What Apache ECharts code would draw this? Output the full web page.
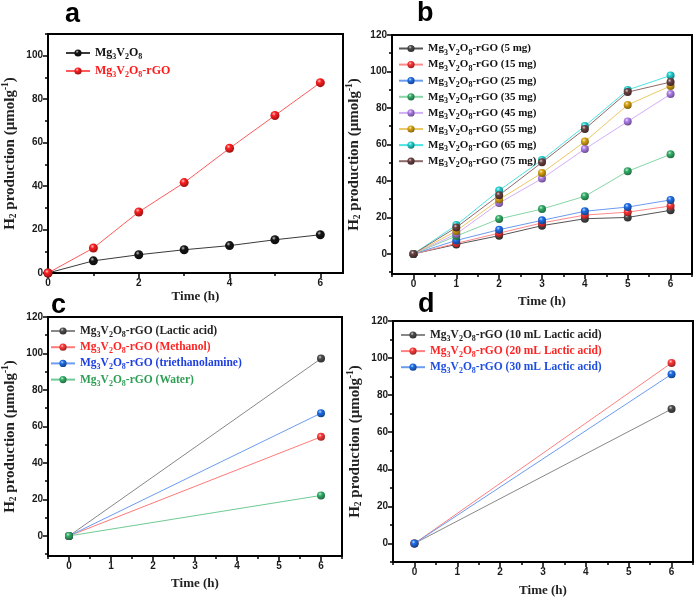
<!DOCTYPE html>
<html>
<head>
<meta charset="utf-8">
<script src="https://cdn.jsdelivr.net/npm/echarts@6/dist/echarts.min.js"></script>
<style>html,body{margin:0;padding:0;background:#fff}#c{width:697px;height:600px}</style>
</head>
<body>
<div id="c"></div>
<script>
// ---------- data ----------
const hoursA = [0, 1, 2, 3, 4, 5, 6];
const hoursB = [0, 1, 2, 3, 4, 5, 6];
const hoursCD = [0, 6];

// panel a
const namesA = ['Mg3V2O8', 'Mg3V2O8-rGO'];
const a_MgVO = [0, 5.6, 8.4, 10.7, 12.6, 15.3, 17.6];
const a_MgVO_rGO = [0, 11.5, 28.1, 41.6, 57.4, 72.5, 87.6];

// panel b
const namesB = ['Mg3V2O8-rGO (5 mg)', 'Mg3V2O8-rGO (15 mg)', 'Mg3V2O8-rGO (25 mg)', 'Mg3V2O8-rGO (35 mg)',
  'Mg3V2O8-rGO (45 mg)', 'Mg3V2O8-rGO (55 mg)', 'Mg3V2O8-rGO (65 mg)', 'Mg3V2O8-rGO (75 mg)'];
const b_5mg = [0, 5.2, 10.0, 15.5, 19.3, 20.0, 23.9];
const b_15mg = [0, 5.8, 11.4, 17.0, 21.3, 22.9, 26.3];
const b_25mg = [0, 7.4, 13.3, 18.4, 23.4, 25.7, 29.6];
const b_35mg = [0, 9.8, 19.2, 24.6, 31.6, 45.3, 54.6];
const b_45mg = [0, 11.0, 27.9, 41.3, 57.5, 72.6, 87.6];
const b_55mg = [0, 12.6, 29.8, 44.4, 61.6, 81.7, 92.1];
const b_65mg = [0, 15.8, 34.8, 51.5, 70.1, 89.9, 97.8];
const b_75mg = [0, 14.5, 32.2, 50.2, 68.5, 88.7, 94.2];

// panel c
const namesC = ['Mg3V2O8-rGO (Lactic acid)', 'Mg3V2O8-rGO (Methanol)', 'Mg3V2O8-rGO (triethanolamine)', 'Mg3V2O8-rGO (Water)'];
const c_lactic = [0, 97.2];
const c_methanol = [0, 54.3];
const c_teoa = [0, 67.3];
const c_water = [0, 22.2];

// panel d
const namesD = ['Mg3V2O8-rGO (10 mL Lactic acid)', 'Mg3V2O8-rGO (20 mL Lactic acid)', 'Mg3V2O8-rGO (30 mL Lactic acid)'];
const d_10mL = [0, 72.5];
const d_20mL = [0, 97.4];
const d_30mL = [0, 91.3];

// tick values
const xMajorA = [0, 2, 4, 6];
const xMinorA = [1, 3, 5];
const yMajorA = [0, 20, 40, 60, 80, 100];
const yMinorA = [10, 30, 50, 70, 90, 110];
const xMajor = [0, 1, 2, 3, 4, 5, 6];
const xMinor = [-0.5, 0.5, 1.5, 2.5, 3.5, 4.5, 5.5, 6.5];
const yMajor = [0, 20, 40, 60, 80, 100, 120];
const yMinor = [-10, 10, 30, 50, 70, 90, 110];

// ---------- styling helpers ----------
const SERIF = 'Liberation Serif';
const SANS = 'Liberation Sans';

function mix(hex, t, target) {
  const n = parseInt(hex.slice(1), 16);
  const r = (n >> 16) & 255, g = (n >> 8) & 255, b = n & 255;
  const f = v => Math.round(v + (target - v) * t);
  return 'rgb(' + f(r) + ',' + f(g) + ',' + f(b) + ')';
}
function ball(hex) {
  return {
    type: 'radial', x: 0.38, y: 0.32, r: 0.75,
    colorStops: [
      { offset: 0, color: mix(hex, 0.75, 255) },
      { offset: 0.3, color: hex },
      { offset: 1, color: mix(hex, 0.45, 0) }
    ]
  };
}
function chem(name) {
  const base = 'Mg3V2O8';
  const rest = name.slice(base.length);
  return '{n|Mg}{s|3}{n|V}{s|2}{n|O}{s|8}' + (rest ? '{n|' + rest + '}' : '');
}
function pair(xs, ys) { return xs.map((x, i) => [x, ys[i]]); }

function mkSeries(name, xs, ys, marker, line, gi, size) {
  return {
    type: 'line', name: name, data: pair(xs, ys),
    xAxisIndex: gi * 2, yAxisIndex: gi * 2,
    symbol: 'circle', symbolSize: size,
    itemStyle: { color: ball(marker), borderWidth: 0 },
    lineStyle: { color: line, width: 1 },
    emphasis: { disabled: true }
  };
}

function axisPair(dim, gi, min, max, major, minor, name, nameGap) {
  const isX = dim === 'x';
  const common = { type: 'value', gridIndex: gi, min: min, max: max, splitLine: { show: false } };
  const main = Object.assign({}, common, {
    position: isX ? 'bottom' : 'left',
    axisLine: { show: true, onZero: false, lineStyle: { color: '#000', width: 2 } },
    axisTick: { show: true, length: 5, customValues: major, lineStyle: { color: '#000', width: 1.5 } },
    axisLabel: { show: true, customValues: major, margin: 5, color: '#1a1a1a',
      fontFamily: SANS, fontWeight: 'bold', fontSize: 10 },
    name: name, nameLocation: 'middle', nameGap: nameGap
  });
  if (isX) {
    main.nameTextStyle = { fontFamily: SERIF, fontWeight: 'bold', fontSize: 13, color: '#222' };
  } else {
    main.nameTextStyle = {
      fontFamily: SERIF, fontWeight: 'bold', fontSize: 15, color: '#222',
      rich: {
        n: { fontFamily: SERIF, fontWeight: 'bold', fontSize: 15, lineHeight: 18 },
        s: { fontFamily: SERIF, fontWeight: 'bold', fontSize: 9.5, lineHeight: 12, verticalAlign: 'bottom' },
        p: { fontFamily: SERIF, fontWeight: 'bold', fontSize: 9.5, lineHeight: 10, verticalAlign: 'top' }
      }
    };
  }
  const minorAxis = Object.assign({}, common, {
    position: isX ? 'bottom' : 'left',
    axisLine: { show: false, onZero: false },
    axisTick: { show: true, length: 3, customValues: minor, lineStyle: { color: '#000', width: 1.5 } },
    axisLabel: { show: false }
  });
  return [main, minorAxis];
}

const yName = '{n|H}{s|2}{n| production (µmolg}{p|-1}{n|)}';

function legendRich(fs) {
  return {
    n: { fontFamily: SERIF, fontWeight: 'bold', fontSize: fs, lineHeight: 16 },
    s: { fontFamily: SERIF, fontWeight: 'bold', fontSize: Math.round(fs * 0.7), lineHeight: 10, verticalAlign: 'bottom' }
  };
}
function mkLegend(names, colors, left, top, fs, gap) {
  return {
    orient: 'vertical', left: left, top: top, padding: 0,
    itemWidth: 24, itemHeight: 9, itemGap: gap,
    data: names.map((n, i) => ({ name: n, textStyle: { color: colors[i] } })),
    formatter: chem,
    textStyle: { fontFamily: SERIF, fontWeight: 'bold', fontSize: fs, rich: legendRich(fs) },
    selectedMode: false
  };
}

// ---------- colours ----------
const colA = { marker: ['#151515', '#ff1f1f'], line: ['#3a3a3a', '#ff5a5a'], text: ['#111', '#ff1a1a'] };
const colB = {
  marker: ['#4a4a4a', '#ff3535', '#1f6fe8', '#34b06a', '#b07fec', '#d9a414', '#22d0d0', '#6b4242'],
  line: ['#555555', '#ff8a8a', '#6b9cf0', '#86d6a6', '#d3aef8', '#ebc866', '#4fe2e2', '#8e6a6a']
};
const colC = {
  marker: ['#4d4d4d', '#ff3a3a', '#1f6fe8', '#34b06a'],
  line: ['#888888', '#ff7a7a', '#6b9cf0', '#6fcb95'],
  text: ['#222', '#ff2424', '#1e3fe0', '#2e9e55']
};
const colD = {
  marker: ['#4d4d4d', '#ff3a3a', '#1f6fe8'],
  line: ['#888888', '#ff8080', '#6b9cf0'],
  text: ['#222', '#ff2424', '#1e4fe0']
};

// ---------- option ----------
const grids = [
  { left: 44, top: 34, width: 299, height: 239 },
  { left: 392, top: 35, width: 300, height: 239 },
  { left: 44, top: 317, width: 298, height: 239 },
  { left: 393, top: 321, width: 300, height: 241 }
].map(g => Object.assign(g, { show: true, borderColor: '#000', borderWidth: 2, backgroundColor: 'transparent', containLabel: false }));

const xAxis = [].concat(
  axisPair('x', 0, 0, 6.5, xMajorA, xMinorA, 'Time (h)', 17),
  axisPair('x', 1, -0.5, 6.5, xMajor, xMinor, 'Time (h)', 21),
  axisPair('x', 2, -0.5, 6.5, xMajor, xMinor, 'Time (h)', 21),
  axisPair('x', 3, -0.5, 6.5, xMajor, xMinor, 'Time (h)', 22)
);
const yAxis = [].concat(
  axisPair('y', 0, 0, 110, yMajorA, yMinorA, yName, 29),
  axisPair('y', 1, -11, 120, yMajor, yMinor, yName, 29),
  axisPair('y', 2, -11, 120, yMajor, yMinor, yName, 29),
  axisPair('y', 3, -10, 120, yMajor, yMinor, yName, 29)
);

const valsB = [b_5mg, b_15mg, b_25mg, b_35mg, b_45mg, b_55mg, b_65mg, b_75mg];
const valsC = [c_lactic, c_methanol, c_teoa, c_water];
const valsD = [d_10mL, d_20mL, d_30mL];

const series = [
  mkSeries(namesA[0], hoursA, a_MgVO, colA.marker[0], colA.line[0], 0, 9),
  mkSeries(namesA[1], hoursA, a_MgVO_rGO, colA.marker[1], colA.line[1], 0, 9)
].concat(
  namesB.map((n, i) => mkSeries(n, hoursB, valsB[i], colB.marker[i], colB.line[i], 1, 8)),
  namesC.map((n, i) => mkSeries(n, hoursCD, valsC[i], colC.marker[i], colC.line[i], 2, 8)),
  namesD.map((n, i) => mkSeries(n, hoursCD, valsD[i], colD.marker[i], colD.line[i], 3, 8))
);

const legend = [
  mkLegend(namesA, colA.text, 65, 47, 12, 4),
  mkLegend(namesB, namesB.map(() => '#111'), 398, 43, 11, 2.6),
  mkLegend(namesC, colC.text, 50, 325, 11.5, 2.2),
  mkLegend(namesD, colD.text, 400, 329, 11.5, 2.1)
];

function panelLabel(t, x, y) {
  return { type: 'text', left: x, top: y,
    style: { text: t, fontFamily: SANS, fontWeight: 'bold', fontSize: 27, fill: '#000' } };
}

const option = {
  animation: false,
  backgroundColor: '#fff',
  grid: grids,
  xAxis: xAxis,
  yAxis: yAxis,
  legend: legend,
  series: series,
  graphic: [
    panelLabel('a', 65, 1),
    panelLabel('b', 417, 0),
    panelLabel('c', 51, 292),
    panelLabel('d', 418, 291)
  ]
};

const chart = echarts.init(document.getElementById('c'), null, { renderer: 'canvas' });
chart.setOption(option);
</script>
</body>
</html>
